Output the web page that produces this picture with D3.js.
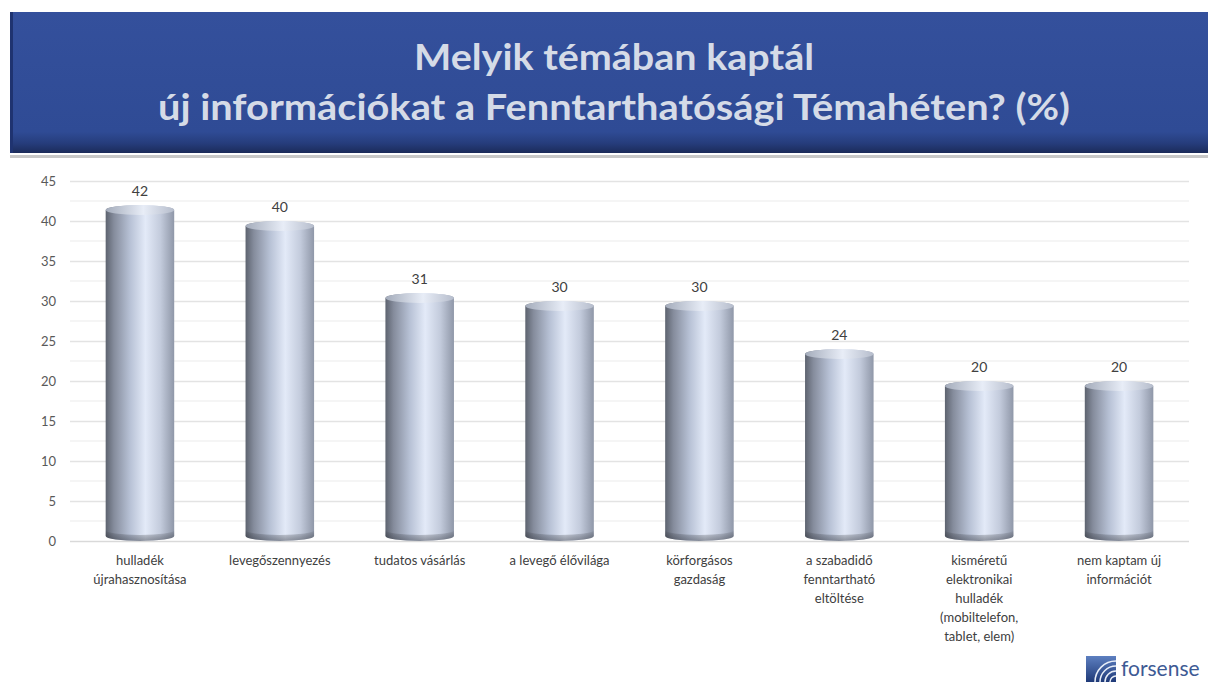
<!DOCTYPE html>
<html>
<head>
<meta charset="utf-8">
<script src="https://cdn.jsdelivr.net/npm/d3@7"></script>
<style>
  body { margin: 0; background: #fff; }
  svg { display: block; font-family: Lato, "Open Sans", sans-serif; }
</style>
</head>
<body>
<svg id="chart" width="1208" height="686"></svg>
<script>
// data
var categories = [
  ["hulladék", "újrahasznosítása"],
  ["levegőszennyezés"],
  ["tudatos vásárlás"],
  ["a levegő élővilága"],
  ["körforgásos", "gazdaság"],
  ["a szabadidő", "fenntartható", "eltöltése"],
  ["kisméretű", "elektronikai", "hulladék", "(mobiltelefon,", "tablet, elem)"],
  ["nem kaptam új", "információt"]
];
var values = [42, 40, 31, 30, 30, 24, 20, 20];
var yTicks = [0, 5, 10, 15, 20, 25, 30, 35, 40, 45];
var titleLines = ["Melyik témában kaptál", "új információkat a Fenntarthatósági Témahéten? (%)"];

var svg = d3.select("#chart")
var defs = svg.append("defs")

// banner gradient
var bg = defs.append("linearGradient").attr("id", "banner").attr("x1", 0).attr("y1", 0).attr("x2", 0).attr("y2", 1)
bg.append("stop").attr("offset", "0%").attr("stop-color", "#34509c")
bg.append("stop").attr("offset", "85%").attr("stop-color", "#2f4b95")
bg.append("stop").attr("offset", "93%").attr("stop-color", "#263d7c")
bg.append("stop").attr("offset", "100%").attr("stop-color", "#1b2b5a")

// cylinder body gradient
var cg = defs.append("linearGradient").attr("id", "cyl").attr("x1", 0).attr("y1", 0).attr("x2", 1).attr("y2", 0)
cg.append("stop").attr("offset", "0%").attr("stop-color", "#5d636f")
cg.append("stop").attr("offset", "12%").attr("stop-color", "#858c9c")
cg.append("stop").attr("offset", "35%").attr("stop-color", "#b6c0d4")
cg.append("stop").attr("offset", "58%").attr("stop-color", "#e3eaf8")
cg.append("stop").attr("offset", "80%").attr("stop-color", "#c3cbdc")
cg.append("stop").attr("offset", "100%").attr("stop-color", "#8f97a8")

var capG = defs.append("linearGradient").attr("id", "cap").attr("x1", 0).attr("y1", 0).attr("x2", 1).attr("y2", 0)
capG.append("stop").attr("offset", "0%").attr("stop-color", "#a4acbb")
capG.append("stop").attr("offset", "55%").attr("stop-color", "#e8edf7")
capG.append("stop").attr("offset", "100%").attr("stop-color", "#b6bdcc")

var botG = defs.append("linearGradient").attr("id", "bot").attr("x1", 0).attr("y1", 0).attr("x2", 0).attr("y2", 1)
botG.append("stop").attr("offset", "0%").attr("stop-color", "#000").attr("stop-opacity", 0)
botG.append("stop").attr("offset", "100%").attr("stop-color", "#2a2e38").attr("stop-opacity", 0.45)

// banner
svg.append("rect")
    .attr("x", 10).attr("y", 12)
    .attr("width", 1198).attr("height", 141)
    .attr("fill", "url(#banner)")
svg.append("rect")
    .attr("x", 10).attr("y", 12)
    .attr("width", 3).attr("height", 141)
    .attr("fill", "#1f3370")
svg.append("rect")
    .attr("x", 10).attr("y", 155)
    .attr("width", 1198).attr("height", 3)
    .attr("fill", "#c8c8c8")

svg.selectAll(".title")
    .data(titleLines)
    .enter()
    .append("text")
    .attr("class", "title")
    .attr("x", 614)
    .attr("y", (d, i) => 70 + i * 50)
    .attr("text-anchor", "middle")
    .attr("font-size", 36)
    .attr("font-weight", "bold")
    .attr("fill", "#d5dbe7")
    .attr("textLength", (d, i) => i == 0 ? 400 : 912)
    .attr("lengthAdjust", "spacingAndGlyphs")
    .text(d => d)

// scales
var x = d3.scaleBand().domain(d3.range(values.length)).range([70, 1189]).paddingInner(0.51).paddingOuter(0.255)
var y = d3.scaleLinear().domain([0, 45]).range([541, 181])

// grid
var minor = d3.range(2.5, 45, 5)
svg.append("g").selectAll("line")
    .data(minor)
    .enter()
    .append("line")
    .attr("x1", 70).attr("x2", 1189)
    .attr("y1", d => y(d)).attr("y2", d => y(d))
    .attr("stroke", "#f2f2f2").attr("stroke-width", 1.5)

var yAxis = d3.axisLeft(y).tickValues(yTicks).tickSize(-1119).tickPadding(14)
var ax = svg.append("g")
    .attr("transform", "translate(70,0)")
    .call(yAxis)
ax.select(".domain").remove()
ax.selectAll(".tick line").attr("stroke", "#e3e3e3").attr("stroke-width", 1.5)
ax.selectAll(".tick text").attr("fill", "#595959").attr("font-size", 13).attr("font-family", "Lato, sans-serif")
ax.selectAll(".tick").filter(d => d === 0).select("line").attr("stroke", "#d9d9d9")

// cylinders
var ry = 5
var bars = svg.append("g").selectAll("g")
    .data(values)
    .enter()
    .append("g")

bars.append("path")
    .attr("d", (d, i) => {
        var x0 = x(i), w = x.bandwidth(), top = y(d) + ry, bot = y(0) - ry
        return "M" + x0 + "," + top + " L" + x0 + "," + bot +
            " A" + (w / 2) + "," + ry + " 0 0 0 " + (x0 + w) + "," + bot +
            " L" + (x0 + w) + "," + top +
            " A" + (w / 2) + "," + ry + " 0 0 0 " + x0 + "," + top + " Z"
    })
    .attr("fill", "url(#cyl)")

bars.append("path")
    .attr("d", (d, i) => {
        var x0 = x(i), w = x.bandwidth(), bot = y(0) - ry
        return "M" + x0 + "," + (bot - 6) + " L" + x0 + "," + bot +
            " A" + (w / 2) + "," + ry + " 0 0 0 " + (x0 + w) + "," + bot +
            " L" + (x0 + w) + "," + (bot - 6) +
            " A" + (w / 2) + "," + ry + " 0 0 1 " + x0 + "," + (bot - 6) + " Z"
    })
    .attr("fill", "url(#bot)")

bars.append("ellipse")
    .attr("cx", (d, i) => x(i) + x.bandwidth() / 2)
    .attr("cy", d => y(d) + ry)
    .attr("rx", x.bandwidth() / 2)
    .attr("ry", ry)
    .attr("fill", "url(#cap)")

// value labels
bars.append("text")
    .attr("x", (d, i) => x(i) + x.bandwidth() / 2)
    .attr("y", d => y(d) - 9)
    .attr("text-anchor", "middle")
    .attr("font-size", 14)
    .attr("fill", "#404040")
    .text(d => d)

// category labels
var cat = svg.append("g").selectAll("text")
    .data(categories)
    .enter()
    .append("text")
    .attr("x", (d, i) => x(i) + x.bandwidth() / 2)
    .attr("y", 565)
    .attr("text-anchor", "middle")
    .attr("font-size", 13)
    .attr("fill", "#404040")
cat.selectAll("tspan")
    .data(d => d)
    .enter()
    .append("tspan")
    .attr("x", function() { return d3.select(this.parentNode).attr("x") })
    .attr("dy", (d, i) => i == 0 ? 0 : 19)
    .text(d => d)

// logo
var logo = svg.append("g").attr("transform", "translate(1086,656)")
var lg = defs.append("linearGradient").attr("id", "logo").attr("x1", 0).attr("y1", 0).attr("x2", 0).attr("y2", 1)
lg.append("stop").attr("offset", "0%").attr("stop-color", "#5d7fc0")
lg.append("stop").attr("offset", "100%").attr("stop-color", "#1f3a78")
logo.append("rect").attr("x", 0).attr("y", 0).attr("width", 30).attr("height", 26).attr("fill", "url(#logo)")
logo.selectAll("path.arc")
    .data([6, 11, 16, 21])
    .enter()
    .append("path")
    .attr("d", r => "M" + (30 - r) + ",26 A" + r + "," + r + " 0 0 1 30," + (26 - r))
    .attr("fill", "none").attr("stroke", "#e8eef8").attr("stroke-width", 1.5)
logo.append("text")
    .attr("x", 35).attr("y", 20)
    .attr("font-size", 21)
    .attr("fill", "#3d5a94")
    .attr("font-family", "Lato, sans-serif")
    .text("forsense")
</script>
</body>
</html>
